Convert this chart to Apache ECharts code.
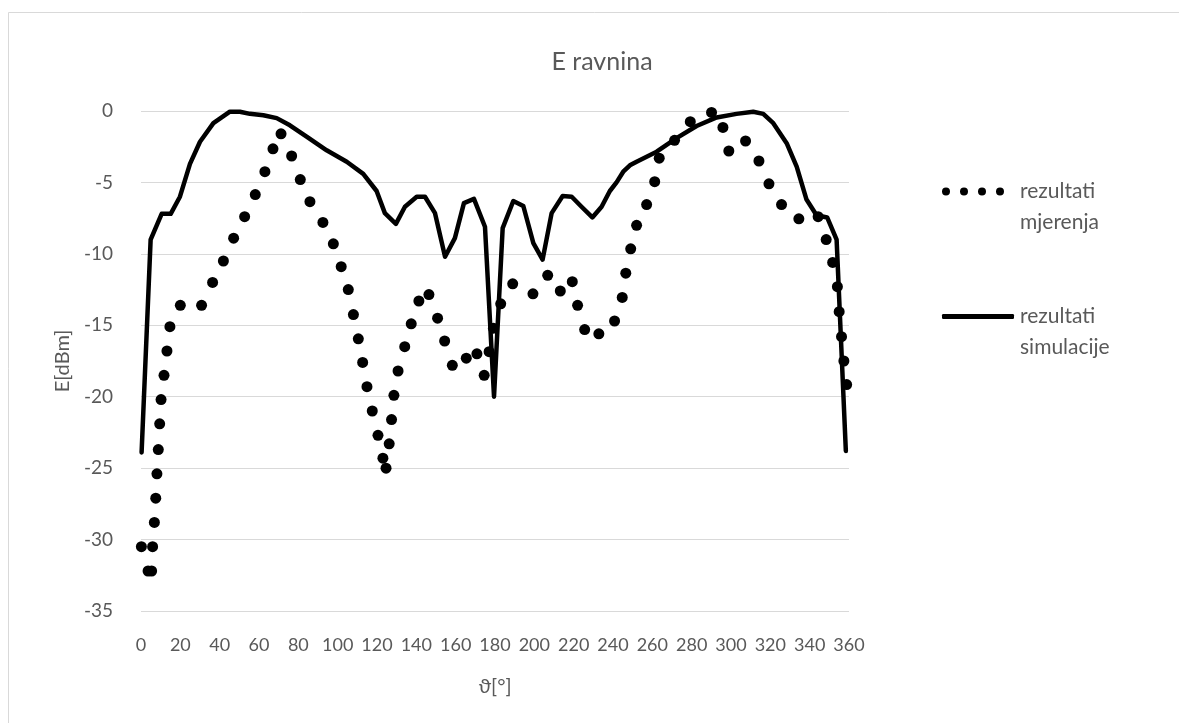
<!DOCTYPE html>
<html>
<head>
<meta charset="utf-8">
<title>E ravnina</title>
<script src="https://cdn.jsdelivr.net/npm/echarts@6/dist/echarts.min.js"></script>
<style>
  html, body { margin: 0; padding: 0; background: #fff; }
  #main { width: 1179px; height: 723px; }
</style>
</head>
<body>
<div id="main"></div>
<script>
// measured values (rezultati mjerenja): angle [deg] and level [dBm]
var mjerenjaKut = [0.2, 3.6, 5.4, 5.9, 6.8, 7.5, 8.1, 8.8, 9.5, 10.2, 11.7, 13.2, 14.7, 20.0, 30.8,
  36.4, 41.9, 47.1, 52.7, 58.1, 63.0, 67.1, 71.2, 76.6, 81.0, 85.9, 92.5, 97.8, 101.8, 105.4,
  108.0, 110.5, 112.7, 114.9, 117.6, 120.5, 123.0, 124.6, 126.2, 127.4, 128.6, 130.7, 134.1, 137.4,
  141.3, 146.4, 150.8, 154.4, 158.3, 165.4, 170.8, 174.5, 177.0, 179.2, 182.9, 189.0, 199.3, 206.8,
  213.2, 219.3, 222.0, 225.6, 232.8, 240.8, 244.7, 246.5, 249.0, 252.0, 257.1, 261.2, 263.5, 271.3,
  279.3, 290.1, 295.9, 298.9, 307.4, 314.2, 319.3, 325.7, 334.5, 344.3, 348.4, 351.7, 354.1, 355.0,
  356.2, 357.4, 358.8];
var mjerenjaE = [-30.5, -32.2, -32.2, -30.5, -28.8, -27.1, -25.4, -23.7, -21.9, -20.2, -18.5, -16.8, -15.1, -13.6, -13.6,
  -12.0, -10.5, -8.9, -7.4, -5.85, -4.25, -2.65, -1.6, -3.15, -4.8, -6.35, -7.8, -9.3, -10.9, -12.5,
  -14.25, -15.95, -17.6, -19.3, -21.0, -22.7, -24.3, -25.0, -23.3, -21.6, -19.9, -18.2, -16.5, -14.9,
  -13.3, -12.85, -14.5, -16.1, -17.8, -17.3, -17.0, -18.5, -16.85, -15.2, -13.5, -12.1, -12.8, -11.5,
  -12.6, -11.95, -13.6, -15.3, -15.6, -14.7, -13.05, -11.35, -9.65, -8.0, -6.55, -4.95, -3.3, -2.05,
  -0.75, -0.1, -1.15, -2.8, -2.1, -3.5, -5.1, -6.55, -7.55, -7.4, -9.0, -10.6, -12.3, -14.05,
  -15.8, -17.5, -19.15];

// simulated values (rezultati simulacije)
var simulacijaKut = [0.3, 4.9, 10.5, 15.1, 19.8, 24.9, 30.0, 36.8, 45.2, 50.3, 55.4, 62.2, 69.0, 75.7,
  84.2, 94.4, 104.6, 113.0, 119.8, 124.0, 129.6, 134.2, 140.2, 144.4, 149.5, 154.6, 159.6, 164.2,
  169.3, 174.9, 179.5, 183.9, 189.3, 194.4, 199.5, 204.2, 208.8, 214.4, 219.0, 224.0, 229.5, 234.2,
  238.4, 241.8, 245.2, 248.6, 252.0, 262.2, 272.3, 282.5, 292.7, 302.8, 311.3, 316.4, 321.5, 328.3,
  333.4, 338.4, 343.5, 348.9, 353.7, 358.4];
var simulacijaE = [-23.9, -9.0, -7.2, -7.2, -6.0, -3.7, -2.15, -0.85, -0.05, -0.05, -0.2, -0.3, -0.5, -1.0,
  -1.8, -2.75, -3.55, -4.4, -5.6, -7.15, -7.9, -6.7, -6.0, -6.0, -7.15, -10.2, -8.9, -6.45,
  -6.15, -8.1, -20.0, -8.2, -6.3, -6.65, -9.25, -10.4, -7.15, -5.95, -6.0, -6.7, -7.45, -6.7,
  -5.6, -5.0, -4.25, -3.8, -3.55, -2.85, -1.9, -1.05, -0.45, -0.2, -0.05, -0.2, -0.85, -2.25,
  -3.9, -6.2, -7.3, -7.45, -9.0, -23.8];

var xMin = 0, xMax = 360, xStep = 20;
var yMin = -35, yMax = 0, yStep = 5;

function pairs(xs, ys) {
  return xs.map(function (x, i) { return [x, ys[i]]; });
}

var textColor = '#595959';
var fontFam = 'Lato, "Open Sans", sans-serif';

var myChart = echarts.init(document.getElementById('main'));

// legend text: empty first line so that the first real line sits on the icon
function legendRich(padLeft) {
  return {
    p: { color: textColor, fontSize: 21, lineHeight: 31, fontFamily: fontFam, padding: [0, 0, 0, padLeft] }
  };
}

var option = {
  backgroundColor: '#fff',
  animation: false,
  textStyle: { fontFamily: fontFam },
  graphic: [{
    type: 'rect',
    shape: { x: 8.5, y: 12.5, width: 1300, height: 900 },
    style: { fill: 'none', stroke: '#d9d9d9', lineWidth: 1 },
    silent: true
  }],
  title: {
    text: 'E ravnina',
    left: 597,
    top: 44,
    textAlign: 'center',
    textStyle: { color: textColor, fontSize: 25, fontWeight: 'normal', fontFamily: fontFam }
  },
  grid: {
    left: 141,
    right: 330,
    top: 111,
    bottom: 112
  },
  xAxis: {
    type: 'value',
    min: xMin,
    max: xMax,
    interval: xStep,
    name: 'ϑ[°]',
    nameLocation: 'middle',
    nameGap: 66,
    nameTextStyle: { color: textColor, fontSize: 20 },
    axisLine: { show: false },
    axisTick: { show: false },
    splitLine: { show: false },
    axisLabel: { color: textColor, fontSize: 18, margin: 25 }
  },
  yAxis: {
    type: 'value',
    min: yMin,
    max: yMax,
    interval: yStep,
    name: 'E[dBm]',
    nameLocation: 'middle',
    nameGap: 68,
    nameTextStyle: { color: textColor, fontSize: 20 },
    axisLine: { show: false },
    axisTick: { show: false },
    splitLine: { lineStyle: { color: '#d9d9d9', width: 1 } },
    axisLabel: { color: textColor, fontSize: 19, margin: 28 }
  },
  legend: [{
    data: ['rezultati mjerenja'],
    left: 942,
    top: 145,
    padding: 0,
    itemWidth: 62,
    itemHeight: 8,
    icon: 'path://M4,0A4,4,0,1,1,4,8A4,4,0,1,1,4,0ZM22,0A4,4,0,1,1,22,8A4,4,0,1,1,22,0ZM40,0A4,4,0,1,1,40,8A4,4,0,1,1,40,0ZM58,0A4,4,0,1,1,58,8A4,4,0,1,1,58,0Z',
    itemStyle: { color: '#000', opacity: 1 },
    formatter: function () { return ' \n{p|rezultati}\n{p|mjerenja}'; },
    textStyle: { color: textColor, fontSize: 21, lineHeight: 31, rich: legendRich(11) }
  }, {
    data: ['rezultati simulacije'],
    left: 942,
    top: 270,
    padding: 0,
    itemWidth: 72,
    itemHeight: 5,
    icon: 'roundRect',
    formatter: function () { return ' \n{p|rezultati}\n{p|simulacije}'; },
    textStyle: { color: textColor, fontSize: 21, lineHeight: 31, rich: legendRich(1) }
  }],
  series: [
    {
      name: 'rezultati simulacije',
      type: 'line',
      data: pairs(simulacijaKut, simulacijaE),
      showSymbol: false,
      symbol: 'none',
      lineStyle: { color: '#000', width: 4.5, join: 'round', cap: 'round' },
      itemStyle: { color: '#000' },
      z: 3
    },
    {
      name: 'rezultati mjerenja',
      type: 'scatter',
      data: pairs(mjerenjaKut, mjerenjaE),
      symbol: 'circle',
      symbolSize: 11,
      itemStyle: { color: '#000', opacity: 1 },
      z: 2
    }
  ]
};

option && myChart.setOption(option);
</script>
</body>
</html>
